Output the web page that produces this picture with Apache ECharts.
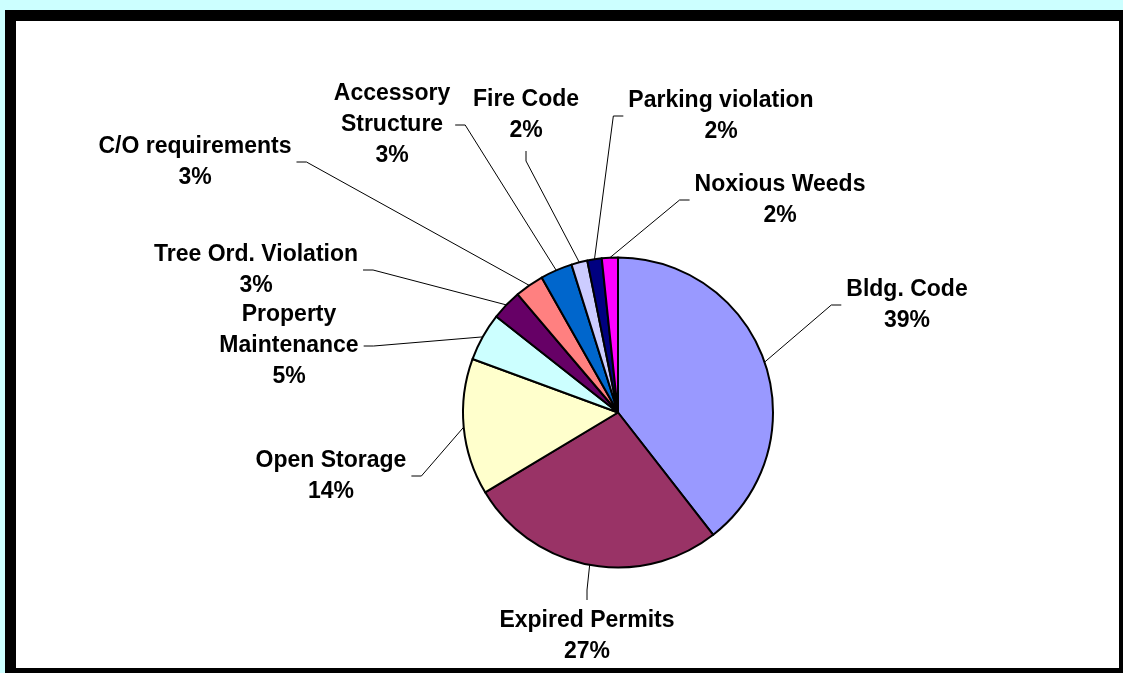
<!DOCTYPE html>
<html>
<head>
<meta charset="utf-8">
<script src="https://cdn.jsdelivr.net/npm/echarts@6/dist/echarts.min.js"></script>
<style>
  html, body { margin: 0; padding: 0; background: #CCFFFF; }
  #chart { width: 1123px; height: 673px; }
</style>
</head>
<body>
<div id="chart"></div>
<script>
// Code enforcement cases by violation type (clockwise from 12 o'clock)
const categories = [
  'Bldg. Code',
  'Expired Permits',
  'Open Storage',
  'Property\nMaintenance',
  'Tree Ord. Violation',
  'C/O requirements',
  'Accessory\nStructure',
  'Fire Code',
  'Parking violation',
  'Noxious Weeds'
];
const caseCounts = [236, 161, 85, 30, 19, 18, 20, 10, 9, 10];
const sliceColors = [
  '#9999FF', '#993366', '#FFFFCC', '#CCFFFF', '#660066',
  '#FF8080', '#0066CC', '#CCCCFF', '#000080', '#FF00FF'
];

// Where each label box is centred (px); the box carries extra bottom padding
const labelCenters = [
  [907, 305], [587, 636], [331, 476], [289, 346], [256, 270],
  [195, 162], [392, 125], [526, 115], [721, 116], [780, 200]
];

const total = caseCounts.reduce((a, b) => a + b, 0);

const chart = echarts.init(document.getElementById('chart'), null, { renderer: 'canvas' });

chart.setOption({
  backgroundColor: '#CCFFFF',
  animation: false,
  graphic: [{
    type: 'rect',
    z: -10,
    shape: { x: 10.5, y: 15.5, width: 1114, height: 658 },
    style: { fill: '#FFFFFF', stroke: '#000000', lineWidth: 11 },
    silent: true
  }],
  series: [{
    type: 'pie',
    center: [618, 412.5],
    radius: 155,
    startAngle: 90,
    clockwise: true,
    avoidLabelOverlap: false,
    emphasis: { disabled: true },
    data: categories.map((name, i) => ({
      name: name,
      value: caseCounts[i],
      itemStyle: { color: sliceColors[i] }
    })),
    itemStyle: { borderColor: '#000000', borderWidth: 2 },
    label: {
      show: true,
      position: 'outside',
      formatter: p => p.name + '\n' + Math.round(p.value / total * 100) + '%',
      fontFamily: '"Liberation Sans", Arial, sans-serif',
      fontWeight: 'bold',
      fontSize: 23,
      lineHeight: 31,
      color: '#000000',
      padding: [2, 5, 8, 5]
    },
    labelLine: {
      show: true,
      length: 10,
      length2: 10,
      minTurnAngle: 0,
      lineStyle: { color: '#000000', width: 1 }
    },
    labelLayout: params => {
      const c = labelCenters[params.dataIndex];
      return { x: c[0], y: c[1], align: 'center', verticalAlign: 'middle' };
    }
  }]
});
</script>
</body>
</html>
